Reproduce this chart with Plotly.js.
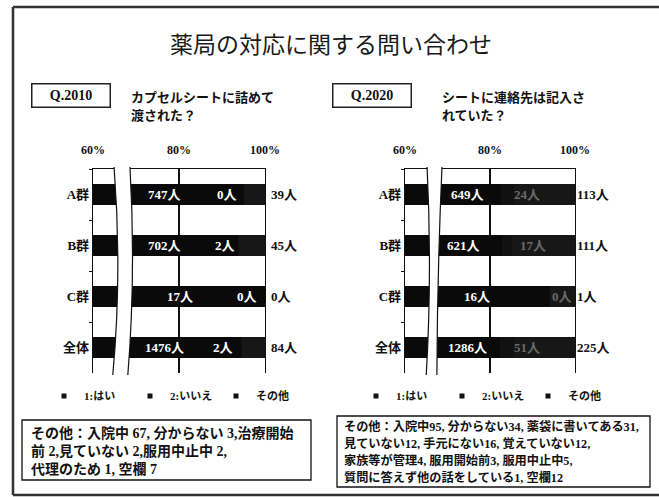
<!DOCTYPE html>
<html><head><meta charset="utf-8">
<script src="https://cdn.plot.ly/plotly-3.0.1.min.js"></script>
<style>html,body{margin:0;padding:0;background:#fff}#chart{width:659px;height:497px}</style>
</head><body><div id="chart"></div>
<script>
// ---------- data ----------
const groups = ['A群', 'B群', 'C群', '全体'];
const seriesNames = ['1:はい', '2:いいえ', 'その他'];
const q2010Yes = [747, 702, 17, 1476];
const q2010No = [0, 2, 0, 2];
const q2010Other = [39, 45, 0, 84];
const q2020Yes = [649, 621, 16, 1286];
const q2020No = [24, 17, 0, 51];
const q2020Other = [113, 111, 1, 225];
const tickVals = [60, 80, 100];
const tickText = ['60%', '80%', '100%'];
const mainTitle = '薬局の対応に関する問い合わせ';
const q1Label = 'Q.2010';
const q1Text = ['カプセルシートに詰めて', '渡された？'];
const q2Label = 'Q.2020';
const q2Text = ['シートに連絡先は記入さ', 'れていた？'];
const note1 = ['その他：入院中 67, 分からない 3,治療開始', '前 2,見ていない 2,服用中止中 2,', '代理のため 1, 空欄 7'];
const note2 = ['その他：入院中95, 分からない34, 薬袋に書いてある31,', '見ていない12, 手元にない16, 覚えていない12,', '家族等が管理4, 服用開始前3, 服用中止中5,', '質問に答えず他の話をしている1, 空欄12'];

// ---------- layout helpers ----------
const W = 659, H = 497;
const px = v => v / W;
const py = v => 1 - v / H;
const FONT = 'Liberation Serif, Noto Sans CJK JP, serif';
const JFONT = 'Noto Sans CJK JP, sans-serif';
const barColors = ['#0a0a0a', '#111111', '#171717'];
// label placement (axis percent) — layout only
const lab1Yes = [76.7, 76.7, 80.2, 76.7];
const lab1No = [91.2, 90.7, 95.8, 90.3];
const lab2Yes = [74.6, 73.7, 76.9, 74.6];
const lab2No = [88.7, 90.1, 97.0, 88.7];

const traces = [];
function addChart(xa, ya, vals) {
  vals.forEach((v, i) => {
    traces.push({
      type: 'bar', orientation: 'h', y: groups, x: v, name: seriesNames[i],
      xaxis: xa, yaxis: ya, marker: { color: barColors[i], line: { width: 0 } },
      showlegend: false, hoverinfo: 'skip'
    });
  });
}
addChart('x', 'y', [q2010Yes, q2010No, q2010Other]);
addChart('x2', 'y2', [q2020Yes, q2020No, q2020Other]);
// legend entries
['legend', 'legend2'].forEach(lg => {
  seriesNames.forEach((n, i) => {
    traces.push({
      type: 'scatter', mode: 'markers', x: [null], y: [null], name: n, legend: lg,
      marker: { symbol: 'square', size: 5, color: '#111' }, xaxis: 'x', yaxis: 'y', hoverinfo: 'skip'
    });
  });
});

const tickFont = { family: FONT, size: 12, color: '#111', weight: 700 };
function xAxis(d0, d1, anchor) {
  return {
    domain: [d0, d1], range: [60, 100], side: 'top', anchor: anchor,
    tickvals: tickVals, ticktext: tickText, tickfont: tickFont,
    showgrid: true, gridcolor: '#111', gridwidth: 1.3, zeroline: false,
    showline: true, linecolor: '#111', linewidth: 1.3, mirror: false,
    ticks: 'outside', ticklen: 9, tickcolor: 'rgba(0,0,0,0)', fixedrange: true
  };
}
function yAxis(anchor) {
  return {
    domain: [py(373), py(169)], anchor: anchor, autorange: 'reversed',
    categoryorder: 'array', categoryarray: groups,
    tickfont: { family: FONT, size: 13, color: '#111', weight: 700 },
    ticks: 'outside', tickson: 'boundaries', ticklen: 3, tickcolor: '#111',
    showline: true, mirror: true, linecolor: '#111', linewidth: 1.3,
    showgrid: false, zeroline: false, fixedrange: true
  };
}

const annotations = [];
function ann(o) { annotations.push(Object.assign({ showarrow: false, xanchor: 'center', yanchor: 'middle' }, o)); }
function addLabels(xa, ya, yes, no, other, posYes, posNo, noColor, shift) {
  groups.forEach((g, i) => {
    ann({ xref: xa, yref: ya, x: posYes[i], y: g, text: yes[i] + '人',
      font: { family: FONT, size: 13, color: '#fff', weight: 700 } });
    ann({ xref: xa, yref: ya, x: posNo[i], y: g, text: no[i] + '人',
      font: { family: FONT, size: 13, color: noColor, weight: 700 } });
    ann({ xref: xa, yref: ya, x: 100, y: g, text: other[i] + '人',
      xanchor: 'left', xshift: shift, font: { family: FONT, size: 13, color: '#111', weight: 700 } });
  });
}
addLabels('x', 'y', q2010Yes, q2010No, q2010Other, lab1Yes, lab1No, '#fff', 4);
addLabels('x2', 'y2', q2020Yes, q2020No, q2020Other, lab2Yes, lab2No, '#6a6a6a', 0);

// question boxes + text
[[q1Label, q1Text, 71, 129], [q2Label, q2Text, 372, 440]].forEach(([lbl, txt, cx, tx]) => {
  ann({ xref: 'paper', yref: 'paper', x: px(cx), y: py(96), text: lbl,
    bordercolor: '#222', borderwidth: 1.5, borderpad: 3, width: 71, height: 16,
    font: { family: FONT, size: 14, color: '#111', weight: 700 } });
  txt.forEach((t, i) => {
    ann({ xref: 'paper', yref: 'paper', x: px(tx), y: py(97 + i * 19), text: t,
      xanchor: 'left', font: { family: FONT, size: 13, color: '#111', weight: 700 } });
  });
});
// notes
note1.forEach((t, i) => ann({ xref: 'paper', yref: 'paper', x: px(29), y: py(433 + i * 18), text: t,
  xanchor: 'left', font: { family: FONT, size: 14, color: '#111', weight: 700 } }));
note2.forEach((t, i) => ann({ xref: 'paper', yref: 'paper', x: px(342), y: py(426 + i * 17), text: t,
  xanchor: 'left', font: { family: FONT, size: 12.2, color: '#111', weight: 700 } }));

// axis break decoration and frames
const yT = py(167), yB = py(375);
const shapes = [
  { type: 'path', xref: 'x', yref: 'paper', layer: 'above', fillcolor: '#fff', line: { width: 0 },
    path: `M 64.9 ${yT} Q 66.8 0.45 64.6 ${yB} L 68.1 ${yB} Q 70.0 0.45 68.6 ${yT} Z` },
  { type: 'path', xref: 'x', yref: 'paper', layer: 'above', line: { color: '#111', width: 1.2 },
    path: `M 64.9 ${yT} Q 66.8 0.45 64.6 ${yB}` },
  { type: 'path', xref: 'x', yref: 'paper', layer: 'above', line: { color: '#111', width: 1.2 },
    path: `M 68.6 ${yT} Q 70.0 0.45 68.1 ${yB}` },
  { type: 'path', xref: 'x2', yref: 'paper', layer: 'above', fillcolor: '#fff', line: { width: 0 },
    path: `M 65.2 ${yT} Q 66.4 0.45 65.0 ${yB} L 67.5 ${yB} Q 67.6 0.45 68.7 ${yT} Z` },
  { type: 'path', xref: 'x2', yref: 'paper', layer: 'above', line: { color: '#111', width: 1.2 },
    path: `M 65.2 ${yT} Q 66.4 0.45 65.0 ${yB}` },
  { type: 'path', xref: 'x2', yref: 'paper', layer: 'above', line: { color: '#111', width: 1.2 },
    path: `M 68.7 ${yT} Q 67.6 0.45 67.5 ${yB}` },
  { type: 'rect', xref: 'paper', yref: 'paper', x0: px(22), x1: px(311), y0: py(480), y1: py(420), line: { color: '#111', width: 1.3 } },
  { type: 'rect', xref: 'paper', yref: 'paper', x0: px(337), x1: px(650), y0: py(487), y1: py(416), line: { color: '#111', width: 1.3 } },
  { type: 'line', xref: 'paper', yref: 'paper', x0: px(13), x1: px(13), y0: py(7), y1: py(495), line: { color: '#333', width: 2.5 } },
  { type: 'line', xref: 'paper', yref: 'paper', x0: px(13), x1: 1.01, y0: py(7), y1: py(7), line: { color: '#333', width: 2.5 } },
  { type: 'line', xref: 'paper', yref: 'paper', x0: px(13), x1: 1.01, y0: py(495), y1: py(495), line: { color: '#333', width: 2.5 } }
];

const legendCommon = { orientation: 'h', xanchor: 'left', yanchor: 'middle', xref: 'container', yref: 'container',
  bgcolor: 'rgba(0,0,0,0)', traceorder: 'normal',
  font: { family: FONT, size: 11, color: '#111', weight: 700 }, itemwidth: 30, entrywidth: 41, entrywidthmode: 'pixels',
  itemclick: false, itemdoubleclick: false };

const layout = {
  width: W, height: H, margin: { l: 0, r: 0, t: 0, b: 0, autoexpand: false },
  paper_bgcolor: '#fff', plot_bgcolor: '#fff',
  barmode: 'stack', barnorm: 'percent', bargap: 0.6,
  title: { text: mainTitle, font: { family: JFONT, size: 23, color: '#1a1a1a' }, x: px(331), xanchor: 'center',
    y: py(45), yanchor: 'middle', yref: 'container', xref: 'container' },
  xaxis: xAxis(px(93), px(265), 'y'),
  yaxis: yAxis('x'),
  xaxis2: xAxis(px(405), px(575), 'y2'),
  yaxis2: yAxis('x2'),
  legend: Object.assign({ x: px(44), y: py(396) }, legendCommon),
  legend2: Object.assign({ x: px(356), y: py(396) }, legendCommon),
  annotations: annotations, shapes: shapes, showlegend: true
};

Plotly.newPlot('chart', traces, layout, { displayModeBar: false, staticPlot: true });
</script></body></html>
